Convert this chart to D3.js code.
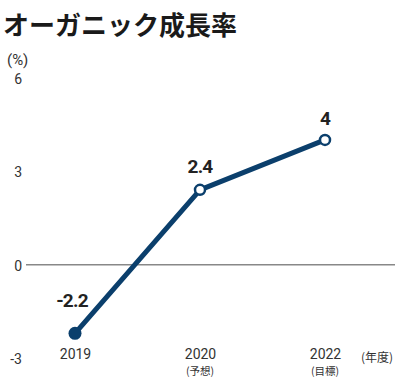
<!DOCTYPE html>
<html>
<head>
<meta charset="utf-8">
<script src="https://cdn.jsdelivr.net/npm/d3@7"></script>
<style>
  html, body { margin: 0; padding: 0; background: #fff; }
  svg { display: block; }
</style>
</head>
<body>
<svg id="chart" width="395" height="378"></svg>
<script>
// Organic growth rate by fiscal year
const years = ["2019", "2020", "2022"];
const subLabels = ["", "(予想)", "(目標)"];
const growth = [-2.2, 2.4, 4];
const yTicks = [6, 3, 0, -3];

const svg = d3.select("#chart");
const numFont = "'Liberation Sans Narrow', 'Roboto', 'Liberation Sans', sans-serif";
const jpFont = "'Noto Sans CJK JP', sans-serif";
const navy = "#0b3f6c";

const x = d3.scalePoint().domain(years).range([75, 325]);
const y = d3.scaleLinear().domain([-3, 6]).range([358.3, 77.5]);

// Title and unit
svg.append("text").attr("x", 3).attr("y", 35)
  .attr("font-family", jpFont).attr("font-weight", 700).attr("font-size", 26)
  .attr("fill", "#1a1a1a").text("オーガニック成長率");
svg.append("text").attr("x", 7).attr("y", 65)
  .attr("font-family", numFont).attr("font-size", 15)
  .attr("fill", "#333").text("(%)");

// Y tick labels
const yAxis = d3.axisLeft(y).tickValues(yTicks).tickSize(0).tickPadding(0)
  .tickFormat(d => String(d));
const gy = svg.append("g").attr("transform", "translate(22,0)").call(yAxis);
gy.select(".domain").remove();
gy.selectAll("text")
  .attr("font-family", numFont).attr("font-size", 14).attr("fill", "#333")
  .attr("dy", "0.4em");

// Zero baseline
svg.append("line")
  .attr("x1", 26).attr("x2", 395)
  .attr("y1", y(0)).attr("y2", y(0))
  .attr("stroke", "#888").attr("stroke-width", 1.6);

// X axis labels
const xAxis = d3.axisBottom(x).tickSize(0).tickPadding(0);
const gx = svg.append("g").attr("transform", "translate(0,349)").call(xAxis);
gx.select(".domain").remove();
gx.selectAll("text")
  .attr("font-family", numFont).attr("font-size", 14).attr("fill", "#333")
  .attr("dy", "0.71em");
svg.selectAll(".sub").data(years).join("text")
  .attr("class", "sub")
  .attr("x", d => x(d)).attr("y", 374.5)
  .attr("text-anchor", "middle")
  .attr("font-family", jpFont).attr("font-size", 10.5).attr("fill", "#333")
  .text((d, i) => subLabels[i]);
svg.append("text").attr("x", 377).attr("y", 362)
  .attr("text-anchor", "middle")
  .attr("font-family", jpFont).attr("font-size", 12).attr("fill", "#333")
  .text("(年度)");

// Line
const pts = years.map((d, i) => ({ year: d, value: growth[i] }));
svg.append("path").datum(pts)
  .attr("fill", "none").attr("stroke", navy).attr("stroke-width", 5)
  .attr("stroke-linejoin", "round")
  .attr("d", d3.line().x(d => x(d.year)).y(d => y(d.value)));

// Markers: actual result filled, forecast/target hollow
svg.selectAll(".pt").data(pts).join("circle")
  .attr("class", "pt")
  .attr("cx", d => x(d.year)).attr("cy", d => y(d.value))
  .attr("r", (d, i) => i === 0 ? 6.5 : 5)
  .attr("fill", (d, i) => i === 0 ? navy : "#fff")
  .attr("stroke", navy).attr("stroke-width", (d, i) => i === 0 ? 0 : 2.5);

// Value labels
const labelOffset = [[-3, -26], [0, -17], [0, -15]];
svg.selectAll(".val").data(pts).join("text")
  .attr("class", "val")
  .attr("x", (d, i) => x(d.year) + labelOffset[i][0])
  .attr("y", (d, i) => y(d.value) + labelOffset[i][1])
  .attr("text-anchor", "middle")
  .attr("font-family", numFont).attr("font-weight", 700).attr("font-size", 19)
  .attr("letter-spacing", -0.8)
  .attr("fill", "#222")
  .text(d => d.value);
</script>
</body>
</html>
